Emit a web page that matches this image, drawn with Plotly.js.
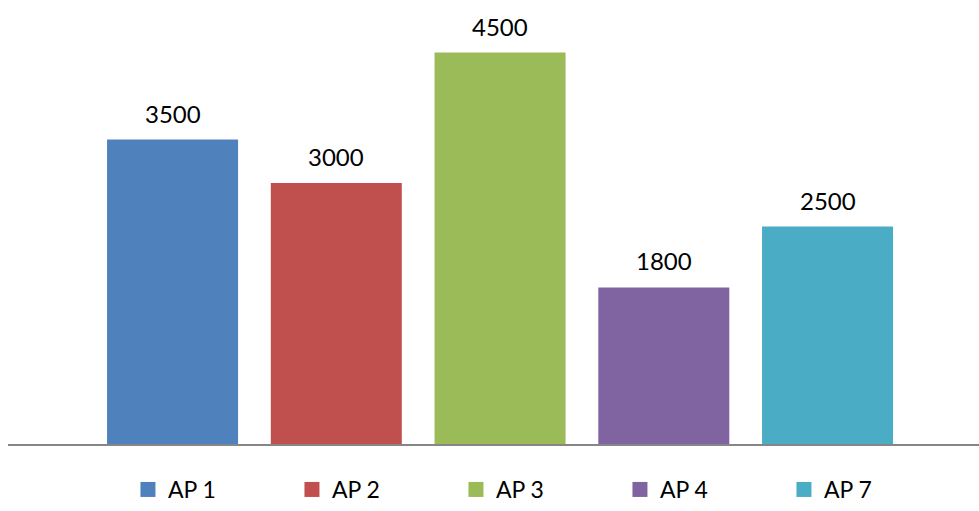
<!DOCTYPE html>
<html>
<head>
<meta charset="utf-8">
<script src="https://cdn.plot.ly/plotly-3.0.1.min.js"></script>
<style>html,body{margin:0;padding:0;background:#fff;}#chart{width:979px;height:511px;}</style>
</head>
<body>
<div id="chart"></div>
<script>
var categories = ["AP 1", "AP 2", "AP 3", "AP 4", "AP 7"];
var values = [3500, 3000, 4500, 1800, 2500];
var colors = ["#4F81BD", "#C0504D", "#9BBB59", "#8064A2", "#4BACC6"];

var FONT = "Lato, 'Open Sans', sans-serif";
var traces = categories.map(function (c, i) {
  return {
    type: "bar",
    name: c,
    x: [c],
    y: [values[i]],
    width: 0.8,
    marker: { color: colors[i] },
    showlegend: false,
    hoverinfo: "none"
  };
});
// legend entries with larger square swatches
categories.forEach(function (c, i) {
  traces.push({
    type: "scatter",
    mode: "markers",
    name: c,
    x: [null],
    y: [null],
    marker: { symbol: "square", size: 15, color: colors[i] },
    showlegend: true,
    hoverinfo: "none"
  });
});

var annotations = categories.map(function (c, i) {
  return {
    x: c, y: values[i], xref: "x", yref: "y",
    text: String(values[i]),
    showarrow: false,
    yanchor: "bottom",
    yshift: 10,
    font: { family: FONT, size: 24, color: "#000" }
  };
});

var layout = {
  width: 979, height: 511,
  margin: { l: 8, r: 0, t: 9, b: 67, autoexpand: false },
  paper_bgcolor: "#fff", plot_bgcolor: "#fff",
  barmode: "overlay",
  showlegend: true,
  legend: {
    orientation: "h",
    xref: "container", x: 0.1307, xanchor: "left",
    yref: "container", y: 0, yanchor: "bottom",
    entrywidth: 119, entrywidthmode: "pixels",
    font: { family: FONT, size: 23, color: "#000" },
    itemclick: false, itemdoubleclick: false
  },
  xaxis: {
    type: "category",
    range: [-1.005, 4.925],
    showticklabels: false,
    ticks: "",
    showgrid: false,
    zeroline: false,
    showline: true, linecolor: "#868686", linewidth: 2
  },
  yaxis: {
    range: [0, 5000],
    visible: false,
    showgrid: false,
    zeroline: false
  },
  annotations: annotations
};

Plotly.newPlot("chart", traces, layout, { displayModeBar: false, staticPlot: true });
</script>
</body>
</html>
